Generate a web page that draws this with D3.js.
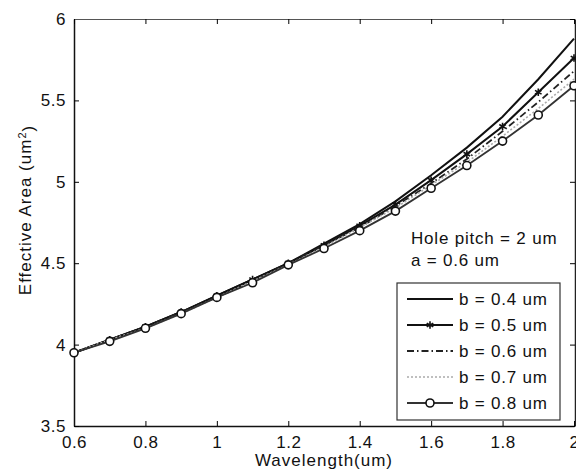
<!DOCTYPE html>
<html>
<head>
<meta charset="utf-8">
<script src="https://cdn.jsdelivr.net/npm/d3@7"></script>
<style>
  body { margin: 0; background: #fff; }
  text { font-family: "Liberation Sans", Arial, sans-serif; fill: #111; }
</style>
</head>
<body>
<div id="chart"></div>
<script>
// wavelength (um)
const wavelengths = [0.6, 0.7, 0.8, 0.9, 1.0, 1.1, 1.2, 1.3, 1.4, 1.5, 1.6, 1.7, 1.8, 1.9, 2.0];

// effective area (um^2) per b value
const areaB04 = [3.95, 4.03, 4.11, 4.20, 4.30, 4.40, 4.50, 4.62, 4.74, 4.88, 5.04, 5.21, 5.40, 5.63, 5.88];
const areaB05 = [3.95, 4.03, 4.11, 4.20, 4.30, 4.40, 4.50, 4.61, 4.73, 4.86, 5.01, 5.17, 5.34, 5.55, 5.76];
const areaB06 = [3.95, 4.03, 4.11, 4.20, 4.29, 4.39, 4.50, 4.61, 4.72, 4.85, 4.99, 5.14, 5.31, 5.49, 5.68];
const areaB07 = [3.95, 4.03, 4.10, 4.19, 4.29, 4.39, 4.49, 4.60, 4.72, 4.84, 4.98, 5.12, 5.28, 5.45, 5.63];
const areaB08 = [3.95, 4.02, 4.10, 4.19, 4.29, 4.38, 4.49, 4.59, 4.70, 4.82, 4.96, 5.10, 5.25, 5.41, 5.59];

const seriesLabels = ["b = 0.4 um", "b = 0.5 um", "b = 0.6 um", "b = 0.7 um", "b = 0.8 um"];
const xTicks = [0.6, 0.8, 1, 1.2, 1.4, 1.6, 1.8, 2];
const yTicks = [3.5, 4, 4.5, 5, 5.5, 6];

const series = [
  { label: seriesLabels[0], values: areaB04, color: "#111", width: 2, dash: null, marker: null },
  { label: seriesLabels[1], values: areaB05, color: "#111", width: 2, dash: null, marker: "star" },
  { label: seriesLabels[2], values: areaB06, color: "#222", width: 1.8, dash: "7,3,1.5,3", marker: null },
  { label: seriesLabels[3], values: areaB07, color: "#aaa", width: 1.6, dash: "2,2", marker: null },
  { label: seriesLabels[4], values: areaB08, color: "#333", width: 1.8, dash: null, marker: "circle" }
];

const svg = d3.select("#chart").append("svg")
  .attr("width", 576)
  .attr("height", 471);

const x = d3.scaleLinear().domain([0.6, 2]).range([74, 574]);
const y = d3.scaleLinear().domain([3.5, 6]).range([426, 19]);

const plain = d => String(d);

// axes box, matlab style inward ticks
svg.append("g")
  .attr("transform", "translate(0,426)")
  .call(d3.axisBottom(x).tickValues(xTicks).tickSizeInner(-5).tickSizeOuter(0).tickPadding(10)
    .tickFormat(plain))
  .call(g => g.select(".domain").attr("stroke", "#111").attr("stroke-width", 1.5))
  .call(g => g.selectAll("text").style("font-size", "17px").style("letter-spacing", "0.5px")
    .attr("fill", "#111").attr("font-family", "Liberation Sans, Arial, sans-serif"));

svg.append("g")
  .attr("transform", "translate(74,0)")
  .call(d3.axisLeft(y).tickValues(yTicks).tickSizeInner(-5).tickSizeOuter(0).tickPadding(8)
    .tickFormat(plain))
  .call(g => g.select(".domain").attr("stroke", "#111").attr("stroke-width", 1.5))
  .call(g => g.selectAll("text").style("font-size", "17px").style("letter-spacing", "0.5px")
    .attr("fill", "#111").attr("font-family", "Liberation Sans, Arial, sans-serif"));

svg.append("g")
  .attr("transform", "translate(0,19)")
  .call(d3.axisTop(x).tickValues(xTicks).tickSizeInner(-5).tickSizeOuter(0).tickFormat(""))
  .call(g => g.select(".domain").attr("stroke", "#555").attr("stroke-width", 1.2));

svg.append("g")
  .attr("transform", "translate(575,0)")
  .call(d3.axisRight(y).tickValues(yTicks).tickSizeInner(-5).tickSizeOuter(0).tickFormat(""))
  .call(g => g.select(".domain").attr("stroke", "#222").attr("stroke-width", 1.5));

// axis titles
svg.append("text")
  .attr("x", 324)
  .attr("y", 466)
  .attr("text-anchor", "middle")
  .style("font-size", "17px")
  .style("letter-spacing", "1px")
  .text("Wavelength(um)");

const yTitle = svg.append("text")
  .attr("transform", "translate(31,210) rotate(-90)")
  .attr("text-anchor", "middle")
  .style("font-size", "17px")
  .style("letter-spacing", "1px");
yTitle.append("tspan").text("Effective Area (um");
yTitle.append("tspan").attr("dy", "-0.45em").style("font-size", "11px").text("2");
yTitle.append("tspan").attr("dy", "0.45em").text(")");

// curves
const line = d3.line()
  .x((d, i) => x(wavelengths[i]))
  .y(d => y(d));

const star = d3.symbol().type(d3.symbolAsterisk).size(40);

series.forEach(s => {
  svg.append("path")
    .datum(s.values)
    .attr("d", line)
    .attr("fill", "none")
    .attr("stroke", s.color)
    .attr("stroke-width", s.width)
    .attr("stroke-dasharray", s.dash);

  if (s.marker === "circle") {
    svg.selectAll(null)
      .data(s.values)
      .enter().append("circle")
      .attr("cx", (d, i) => x(wavelengths[i]))
      .attr("cy", d => y(d))
      .attr("r", 4)
      .attr("fill", "#fff")
      .attr("stroke", "#111")
      .attr("stroke-width", 1.6);
  }
  if (s.marker === "star") {
    svg.selectAll(null)
      .data(s.values)
      .enter().append("path")
      .attr("d", star)
      .attr("transform", (d, i) => `translate(${x(wavelengths[i])},${y(d)})`)
      .attr("fill", "none")
      .attr("stroke", "#111")
      .attr("stroke-width", 1.6);
  }
});

// annotation
svg.append("text")
  .attr("x", 411).attr("y", 244)
  .style("font-size", "17px").style("letter-spacing", "0.8px")
  .text("Hole pitch = 2 um");
svg.append("text")
  .attr("x", 411).attr("y", 266)
  .style("font-size", "17px").style("letter-spacing", "0.8px")
  .text("a = 0.6 um");

// legend
const legend = svg.append("g");
legend.append("rect")
  .attr("x", 397).attr("y", 283)
  .attr("width", 163).attr("height", 137)
  .attr("fill", "#fff")
  .attr("stroke", "#333")
  .attr("stroke-width", 1.2);

series.forEach((s, i) => {
  const ly = 299 + i * 26;
  legend.append("line")
    .attr("x1", 407).attr("x2", 453)
    .attr("y1", ly).attr("y2", ly)
    .attr("stroke", s.color)
    .attr("stroke-width", s.width)
    .attr("stroke-dasharray", s.dash);
  if (s.marker === "circle") {
    legend.append("circle")
      .attr("cx", 430).attr("cy", ly).attr("r", 4)
      .attr("fill", "#fff").attr("stroke", "#111").attr("stroke-width", 1.6);
  }
  if (s.marker === "star") {
    legend.append("path")
      .attr("d", star)
      .attr("transform", `translate(430,${ly})`)
      .attr("fill", "none").attr("stroke", "#111").attr("stroke-width", 1.6);
  }
  legend.append("text")
    .attr("x", 459).attr("y", ly)
    .attr("dy", "0.36em")
    .style("font-size", "17px")
    .style("letter-spacing", "0.8px")
    .text(s.label);
});
</script>
</body>
</html>
